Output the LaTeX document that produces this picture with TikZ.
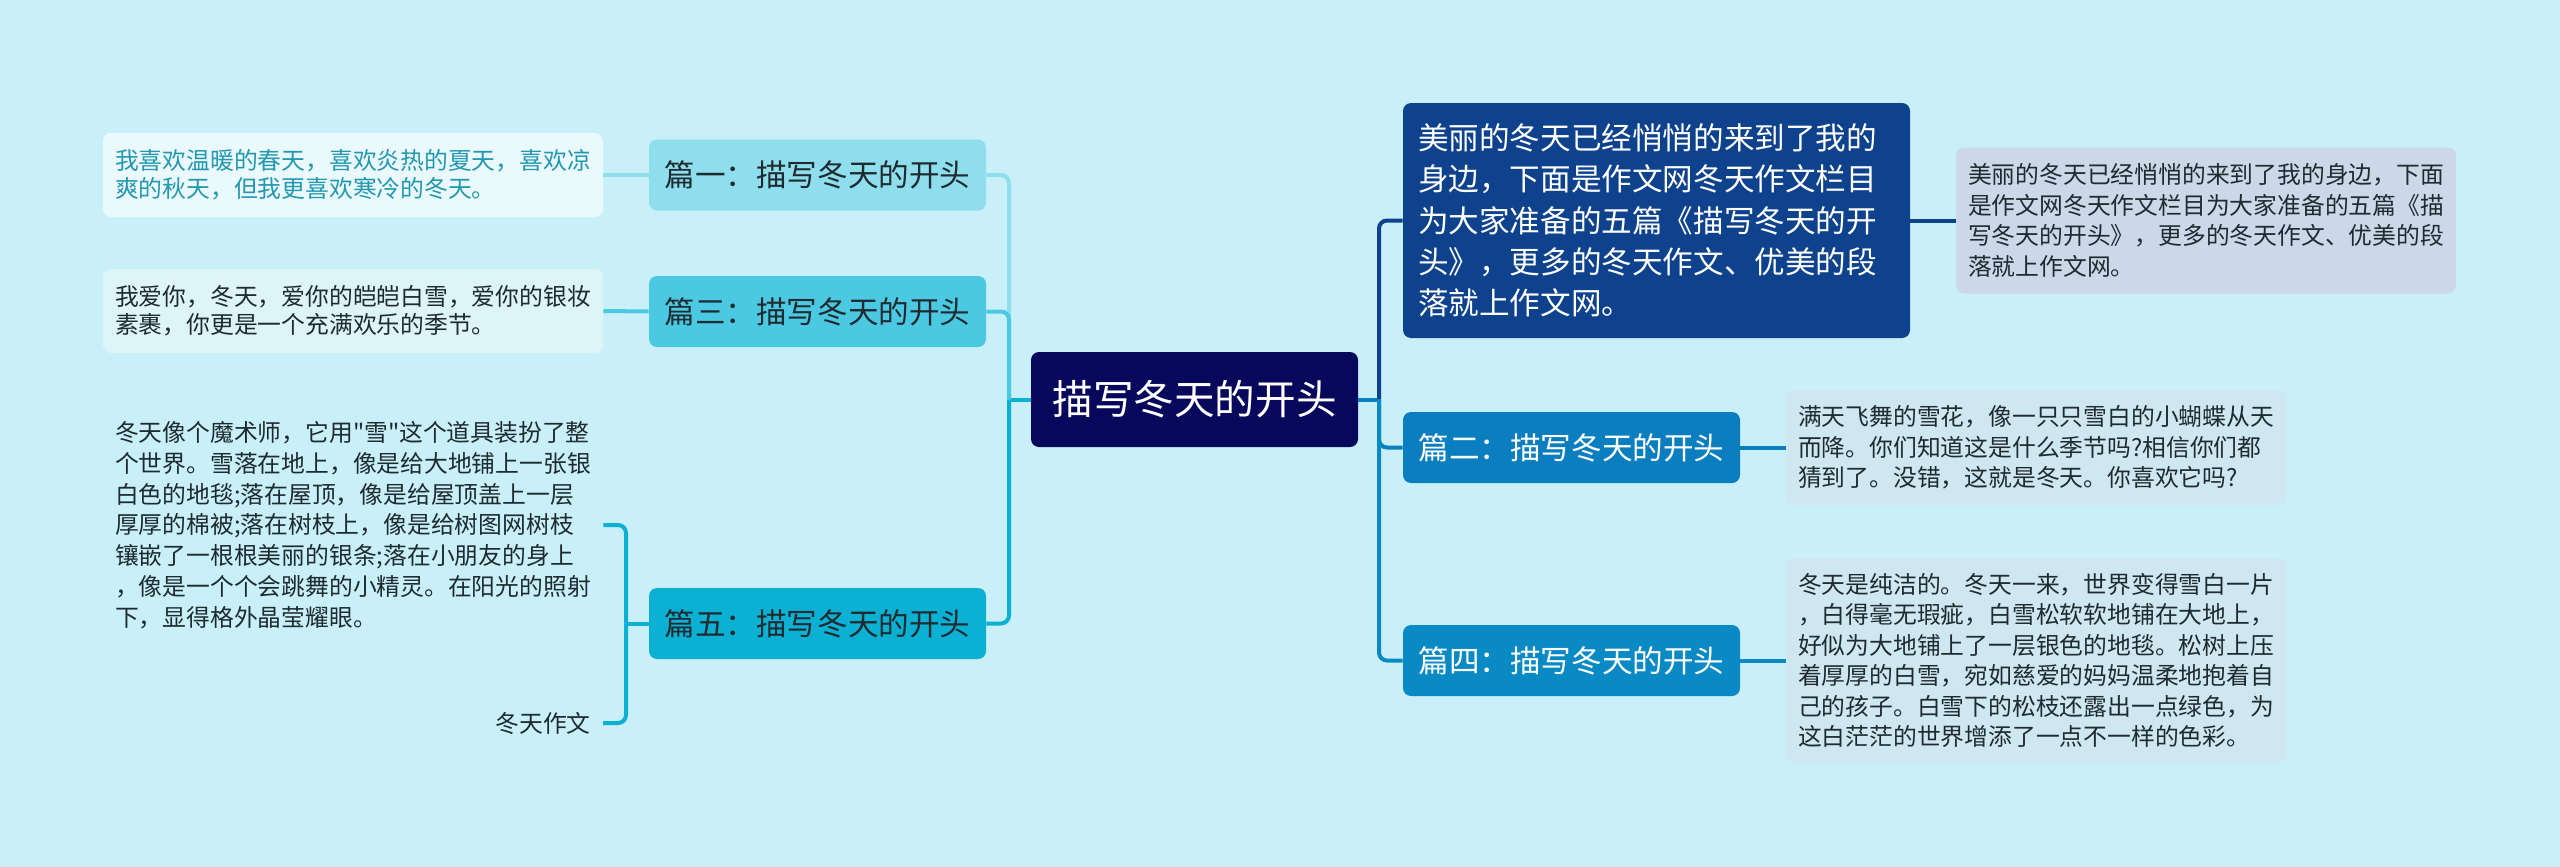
\documentclass[tikz,border=0pt]{standalone}
\usepackage{fontspec}
\setmainfont{Noto Sans CJK SC}[Ligatures=TeXOff]
\definecolor{bgcol}{HTML}{C9F0F8}
\definecolor{rootcol}{HTML}{07075C}
\definecolor{introcol}{HTML}{0E428C}
\definecolor{introleaf}{HTML}{CCD7E8}
\definecolor{midblue}{HTML}{0B7EBF}
\definecolor{midblueb}{HTML}{0A8AC5}
\definecolor{rightleaf}{HTML}{CFE7F1}
\definecolor{cyana}{HTML}{8EDEEE}
\definecolor{cyanb}{HTML}{4CC9E2}
\definecolor{cyanc}{HTML}{0BB0D3}
\definecolor{leafa}{HTML}{EAF9FC}
\definecolor{leafb}{HTML}{DDF4F9}
\definecolor{tealtext}{HTML}{2398B0}
\definecolor{darktext}{HTML}{1E2B30}
\begin{document}
\begin{tikzpicture}[x=0.5pt, y=-0.5pt,
  rootbox/.style={fill=rootcol, text=white, rounded corners=4pt, minimum width=163.5pt, minimum height=47.5pt, inner sep=0pt, font=\fontsize{20.3}{24}\selectfont},
  branch/.style={rounded corners=4pt, minimum width=168.5pt, minimum height=35.5pt, inner sep=0pt, font=\fontsize{15.3}{18}\selectfont},
  leaf/.style={rounded corners=4pt, text width=238pt, inner xsep=6pt, align=left, text=darktext, font=\fontsize{11.9}{15.2}\selectfont},
  link/.style={line width=2pt},
]
  % 背景
  \fill[bgcol] (0,0) rectangle (2560,867);
  \useasboundingbox (0,0) rectangle (2560,867);

  % 中心主题
  \node[rootbox] (root) at (1194.5,399.5) {描写冬天的开头};

  % 右侧分支
  \node[branch, fill=introcol, text=white, minimum width=253.5pt, minimum height=117.5pt, text width=238.5pt, inner xsep=7.5pt, align=left, font=\fontsize{15.3}{20.7}\selectfont]
    (intro) at (1656.5,220.5) {美丽的冬天已经悄悄的来到了我的\\身边，下面是作文网冬天作文栏目\\为大家准备的五篇《描写冬天的开\\头》，更多的冬天作文、优美的段\\落就上作文网。};
  \node[branch, fill=midblue, text=white] (p2) at (1571.5,447.5) {篇二：描写冬天的开头};
  \node[branch, fill=midblueb, text=white] (p4) at (1571.5,660.5) {篇四：描写冬天的开头};

  \node[leaf, fill=introleaf, minimum height=73pt] (introtxt) at (2206,220.5)
    {美丽的冬天已经悄悄的来到了我的身边，下面\\是作文网冬天作文栏目为大家准备的五篇《描\\写冬天的开头》，更多的冬天作文、优美的段\\落就上作文网。};
  \node[leaf, fill=rightleaf, minimum height=57.5pt] (p2txt) at (2036,447.5)
    {满天飞舞的雪花，像一只只雪白的小蝴蝶从天\\而降。你们知道这是什么季节吗?相信你们都\\猜到了。没错，这就是冬天。你喜欢它吗?};
  \node[leaf, fill=rightleaf, minimum height=102.5pt] (p4txt) at (2036,660.5)
    {冬天是纯洁的。冬天一来，世界变得雪白一片\\，白得毫无瑕疵，白雪松软软地铺在大地上，\\好似为大地铺上了一层银色的地毯。松树上压\\着厚厚的白雪，宛如慈爱的妈妈温柔地抱着自\\己的孩子。白雪下的松枝还露出一点绿色，为\\这白茫茫的世界增添了一点不一样的色彩。};

  % 左侧分支
  \node[branch, fill=cyana, text=darktext] (p1) at (817.5,175) {篇一：描写冬天的开头};
  \node[branch, fill=cyanb, text=darktext] (p3) at (817.5,311.5) {篇三：描写冬天的开头};
  \node[branch, fill=cyanc, text=darktext] (p5) at (817.5,623.5) {篇五：描写冬天的开头};

  \node[leaf, fill=leafa, text=tealtext, minimum height=42pt, font=\fontsize{11.9}{14.2}\selectfont] (p1txt) at (353,175)
    {我喜欢温暖的春天，喜欢炎热的夏天，喜欢凉\\爽的秋天，但我更喜欢寒冷的冬天。};
  \node[leaf, fill=leafb, minimum height=42pt, font=\fontsize{11.9}{14.2}\selectfont] (p3txt) at (353,311)
    {我爱你，冬天，爱你的皑皑白雪，爱你的银妆\\素裹，你更是一个充满欢乐的季节。};
  \node[leaf, font=\fontsize{11.9}{15.4}\selectfont] (p5txt) at (353,525)
    {冬天像个魔术师，它用"雪"这个道具装扮了整\\个世界。雪落在地上，像是给大地铺上一张银\\白色的地毯;落在屋顶，像是给屋顶盖上一层\\厚厚的棉被;落在树枝上，像是给树图网树枝\\镶嵌了一根根美丽的银条;落在小朋友的身上\\，像是一个个会跳舞的小精灵。在阳光的照射\\下，显得格外晶莹耀眼。};
  \node[text=darktext, inner xsep=6pt, anchor=east, font=\fontsize{11.9}{15.2}\selectfont] (p5tag) at (603,723) {冬天作文};

  % 连线
  \coordinate (jl) at (1009,399.5);
  \coordinate (jr) at (1379,399.5);
  \coordinate (jb) at (626,623.5);
  \draw[link, cyanc] (root.west) -- (jl);
  \draw[link, cyana, rounded corners=4pt] (jl) |- (p1.east);
  \draw[link, cyanb, rounded corners=4pt] (jl) |- (p3.east);
  \draw[link, cyanc, rounded corners=4pt] (jl) |- (p5.east);
  \draw[link, midblue] (root.east) -- (jr);
  \draw[link, introcol, rounded corners=4pt] (jr) |- (intro.west);
  \draw[link, midblue, rounded corners=4pt] (jr) |- (p2.west);
  \draw[link, midblueb, rounded corners=4pt] (jr) |- (p4.west);

  \draw[link, cyana] (p1.west) -- (p1txt.east);
  \draw[link, cyanb] (p3.west) -- (p3txt.east);
  \draw[link, cyanc] (p5.west) -- (jb);
  \draw[link, cyanc, rounded corners=4pt] (jb) |- (p5txt.east);
  \draw[link, cyanc, rounded corners=4pt] (jb) |- (p5tag.east);
  \draw[link, introcol] (intro.east) -- (introtxt.west);
  \draw[link, midblue] (p2.east) -- (p2txt.west);
  \draw[link, midblueb] (p4.east) -- (p4txt.west);
\end{tikzpicture}
\end{document}
